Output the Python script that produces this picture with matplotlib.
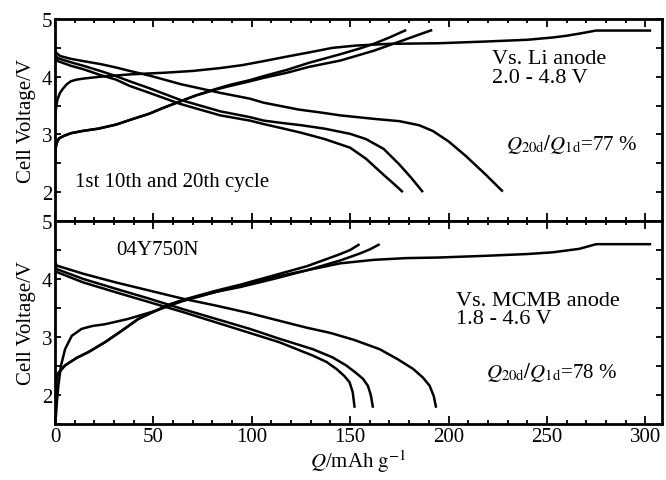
import matplotlib
matplotlib.use("Agg")
from matplotlib import pyplot as plt
from matplotlib.ticker import MultipleLocator

plt.rcParams["font.family"] = ["Liberation Serif", "DejaVu Serif"]
plt.rcParams["mathtext.fontset"] = "stix"

# cells vs Li metal, 2.0 - 4.8 V
li_ch1_q = [0, 0.5, 1.2, 2.5, 4.2, 6, 8, 11, 15, 23, 38, 56, 70, 84, 95, 106, 118, 129, 141,
            153, 170, 195, 219, 240, 253, 260, 267, 275, 303]
li_ch1_v = [3.2, 3.45, 3.6, 3.72, 3.8, 3.87, 3.92, 3.95, 3.97, 4.0, 4.04, 4.07, 4.1, 4.15, 4.2, 4.27, 4.35, 4.42, 4.5,
            4.54, 4.57, 4.58, 4.61, 4.64, 4.68, 4.71, 4.75, 4.8, 4.8]
li_ch10_q = [0, 0.3, 0.8, 2, 4.2, 8, 14, 22, 31, 38, 48, 55, 65, 72, 82, 89, 99, 106, 118, 129,
             145, 155, 162, 170, 178.5]
li_ch10_v = [2.55, 2.75, 2.85, 2.93, 2.97, 3.02, 3.06, 3.1, 3.17, 3.25, 3.36, 3.46, 3.59, 3.68, 3.79, 3.86, 3.94, 4.01, 4.12, 4.24,
             4.39, 4.49, 4.57, 4.68, 4.81]
li_ch20_q = [0, 0.3, 0.8, 2, 4.2, 8, 14, 22, 31, 38, 48, 55, 65, 72, 82, 89, 99, 106, 118, 129,
             145, 162, 178.5, 185, 191.7]
li_ch20_v = [2.55, 2.75, 2.85, 2.93, 2.97, 3.02, 3.06, 3.1, 3.17, 3.25, 3.36, 3.46, 3.59, 3.68, 3.78, 3.84, 3.92, 3.98, 4.07, 4.17,
             4.28, 4.45, 4.65, 4.73, 4.81]
li_dis1_q = [0, 0.5, 2.5, 8, 14.4, 23, 31, 38, 48, 64, 84, 99, 106, 118, 124, 135, 145, 162, 175,
             185, 192, 200, 209, 219, 227.6]
li_dis1_v = [4.47, 4.42, 4.36, 4.31, 4.27, 4.22, 4.16, 4.1, 4.02, 3.87, 3.72, 3.62, 3.55, 3.47, 3.43, 3.38, 3.33, 3.27, 3.23,
             3.16, 3.06, 2.88, 2.62, 2.3, 2.01]
li_dis10_q = [0, 0.5, 1.5, 8, 14.4, 23, 31, 38, 48, 63.5, 84, 99, 106, 115, 125, 137, 150, 158,
              167, 175, 181, 187]
li_dis10_v = [4.4, 4.36, 4.32, 4.25, 4.19, 4.1, 4.01, 3.92, 3.8, 3.6, 3.4, 3.3, 3.24, 3.2, 3.16, 3.1, 3.01, 2.92,
              2.75, 2.48, 2.25, 2.0]
li_dis20_q = [0, 0.5, 1.5, 8, 14.4, 23, 31, 38, 48, 63.5, 84, 99, 106, 115, 125, 137, 150, 158,
              167, 172, 176.8]
li_dis20_v = [4.33, 4.3, 4.27, 4.19, 4.13, 4.03, 3.95, 3.84, 3.72, 3.53, 3.33, 3.24, 3.18, 3.11, 3.03, 2.92, 2.77, 2.58,
              2.3, 2.15, 2.0]

# full cells vs MCMB, 1.8 - 4.6 V
mc_ch1_q = [0, 0.5, 1, 1.7, 3, 5.1, 8.5, 13.5, 19, 25.4, 37, 45, 51, 59, 65, 82, 99, 111, 128, 145,
            162, 178.5, 195, 219, 240, 253, 266.5, 275, 303]
mc_ch1_v = [1.5, 1.65, 1.9, 2.16, 2.5, 2.79, 3.02, 3.14, 3.19, 3.22, 3.31, 3.39, 3.45, 3.55, 3.62, 3.78, 3.93, 4.03, 4.15, 4.27,
            4.33, 4.36, 4.37, 4.4, 4.43, 4.46, 4.52, 4.6, 4.6]
mc_ch10_q = [0, 0.3, 0.8, 1.7, 5.1, 11, 17, 25.4, 34, 42.3, 51, 59, 65, 82, 94, 111, 128, 145, 150, 154.8]
mc_ch10_v = [1.5, 2.0, 2.3, 2.38, 2.51, 2.64, 2.74, 2.91, 3.11, 3.31, 3.45, 3.57, 3.64, 3.8, 3.9, 4.06, 4.22, 4.43, 4.5, 4.6]
mc_ch20_q = [0, 0.3, 0.8, 1.7, 5.1, 11, 17, 25.4, 34, 42.3, 51, 59, 65, 82, 94, 111, 128, 145, 155, 160, 165]
mc_ch20_v = [1.5, 2.0, 2.3, 2.38, 2.51, 2.64, 2.74, 2.91, 3.11, 3.31, 3.45, 3.57, 3.63, 3.78, 3.86, 4.0, 4.15, 4.32, 4.44,
             4.51, 4.6]
mc_dis1_q = [0, 0.9, 14.4, 31, 48, 65, 82, 99, 114, 128, 140, 152, 165, 174, 182, 187, 190.4, 192.5, 193.7]
mc_dis1_v = [4.3, 4.23, 4.09, 3.94, 3.8, 3.66, 3.54, 3.41, 3.28, 3.16, 3.07, 2.95, 2.79, 2.62, 2.45, 2.3, 2.16, 1.98, 1.78]
mc_dis10_q = [0, 0.9, 14.4, 31, 48, 65, 82, 99, 114, 131, 141, 148, 153, 156.5, 159, 160.5, 161.6]
mc_dis10_v = [4.22, 4.17, 4.0, 3.83, 3.66, 3.48, 3.31, 3.14, 2.97, 2.79, 2.65, 2.51, 2.38, 2.28, 2.16, 2.0, 1.78]
mc_dis20_q = [0, 0.9, 14.4, 31, 48, 65, 82, 99, 114, 131, 138, 143, 147, 149.7, 151.3, 152.3]
mc_dis20_v = [4.17, 4.12, 3.94, 3.77, 3.6, 3.43, 3.25, 3.07, 2.91, 2.68, 2.57, 2.45, 2.33, 2.22, 2.05, 1.78]

fig = plt.figure(figsize=(6.66, 4.81), dpi=100)
ax1 = fig.add_axes([0.0826, 0.5385, 0.9114, 0.4199])
ax2 = fig.add_axes([0.0826, 0.1164, 0.9114, 0.4221])

lw = 1.8
for q, v in [(li_ch1_q, li_ch1_v), (li_ch10_q, li_ch10_v), (li_ch20_q, li_ch20_v),
             (li_dis1_q, li_dis1_v), (li_dis10_q, li_dis10_v), (li_dis20_q, li_dis20_v)]:
    ax1.plot(q, v, color="black", lw=lw, solid_capstyle="butt", solid_joinstyle="round")
for q, v in [(mc_ch1_q, mc_ch1_v), (mc_ch10_q, mc_ch10_v), (mc_ch20_q, mc_ch20_v),
             (mc_dis1_q, mc_dis1_v), (mc_dis10_q, mc_dis10_v), (mc_dis20_q, mc_dis20_v)]:
    ax2.plot(q, v, color="black", lw=lw, solid_capstyle="butt", solid_joinstyle="round")

for ax in (ax1, ax2):
    ax.set_xlim(0, 308.5)
    ax.set_ylim(1.5, 5)
    ax.xaxis.set_major_locator(MultipleLocator(50))
    ax.xaxis.set_minor_locator(MultipleLocator(10))
    ax.yaxis.set_major_locator(MultipleLocator(1))
    ax.yaxis.set_minor_locator(MultipleLocator(0.5))
    ax.tick_params(which="both", direction="in", top=True, right=True, width=1.3, labelsize=15, pad=2)
    ax.tick_params(which="major", axis="x", length=6)
    ax.tick_params(which="minor", axis="x", length=3)
    ax.tick_params(which="both", axis="y", length=4)
    for s in ax.spines.values():
        s.set_linewidth(2)
    ax.set_ylabel("Cell Voltage/V", fontsize=15, labelpad=4)

ax1.tick_params(labelbottom=False)
ax2.set_xlabel(r"$Q$/mAh $\mathrm{g}^{-1}$", fontsize=15, labelpad=1)

ax1.text(10, 2.1, "1st 10th and 20th cycle", fontsize=15)
ax1.text(222, 4.15, "Vs. Li anode\n2.0 - 4.8 V", fontsize=16, va="center", linespacing=0.95)
ax1.text(229, 2.85, r"$Q_{\rm 20d}/Q_{\rm 1d}$=77 %", fontsize=15, va="center")

ax2.text(31, 4.5, "04Y750N", fontsize=15, va="center")
ax2.text(204, 3.47, "Vs. MCMB anode\n1.8 - 4.6 V", fontsize=16, va="center", linespacing=0.95)
ax2.text(219, 2.4, r"$Q_{\rm 20d}/Q_{\rm 1d}$=78 %", fontsize=15, va="center")

plt.savefig("out.png", dpi=100)
